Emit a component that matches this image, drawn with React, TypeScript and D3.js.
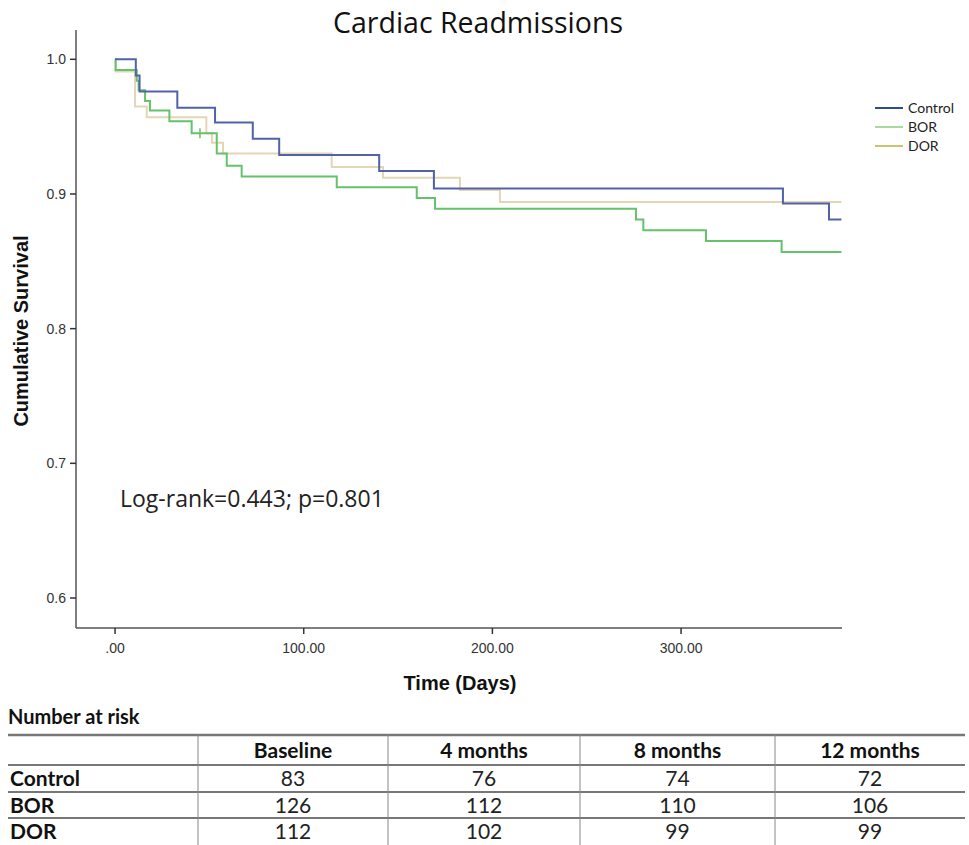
import React from "react";
import * as d3 from "d3";

// ---- Data ----
const seriesNames = ["Control", "BOR", "DOR"];
const controlTimes = [0, 11, 13, 33, 53, 73, 87, 140, 169, 354, 378.4, 385];
const controlSurv = [1.0, 0.988, 0.976, 0.964, 0.953, 0.941, 0.929, 0.917, 0.904, 0.893, 0.881, 0.881];
const borTimes = [0, 0.3, 11.5, 12.5, 15.9, 18.5, 28.8, 40.6, 53.9, 59.2, 67.1, 117.5, 159.9, 169.6, 276.1, 280, 313.2, 353.3, 385];
const borSurv = [1.0, 0.992, 0.984, 0.977, 0.969, 0.962, 0.954, 0.945, 0.930, 0.921, 0.913, 0.905, 0.897, 0.889, 0.881, 0.873, 0.865, 0.857, 0.857];
const borCensorTimes = [45];
const dorTimes = [0, 0.3, 10.6, 16.8, 48.4, 51.4, 57.2, 114.8, 142, 182.8, 204, 385];
const dorSurv = [1.0, 0.991, 0.965, 0.957, 0.945, 0.938, 0.930, 0.920, 0.912, 0.903, 0.894, 0.894];

const yTicks = [0.6, 0.7, 0.8, 0.9, 1.0];
const xTicks = [0, 100, 200, 300];
const xTickLabels = [".00", "100.00", "200.00", "300.00"];

const riskColumns = ["Baseline", "4 months", "8 months", "12 months"];
const riskControl = [83, 76, 74, 72];
const riskBOR = [126, 112, 110, 106];
const riskDOR = [112, 102, 99, 99];

const lineColors = ["#5262aa", "#66c26a", "#e3d6b4"];
const legendColors = ["#2f4c8c", "#a9d99f", "#c9c76b"];

export default function App() {
  const x = d3.scaleLinear().domain([-20.7, 385.3]).range([76, 842]);
  const y = d3.scaleLinear().domain([0.6, 1.0]).range([598, 59.3]);
  const axisY = 628;
  const axisTop = 30;

  const line = d3
    .line<[number, number]>()
    .x((d) => x(d[0]))
    .y((d) => y(d[1]))
    .curve(d3.curveStepAfter);

  const series = [
    { times: controlTimes, surv: controlSurv },
    { times: borTimes, surv: borSurv },
    { times: dorTimes, surv: dorSurv },
  ];
  const drawOrder = [2, 1, 0];

  const borAt = (t: number) => {
    let v = borSurv[0];
    for (let i = 0; i < borTimes.length; i++) if (borTimes[i] <= t) v = borSurv[i];
    return v;
  };

  const riskRows = [riskControl, riskBOR, riskDOR];
  const colEdges = [8, 198, 388, 580, 775, 965];
  const rowEdges = [735, 765, 792, 818, 845];

  const sans = "'Liberation Sans', Arial, sans-serif";
  const cal = "Lato, 'Open Sans', sans-serif";
  const open = "'Open Sans', sans-serif";

  return (
    <svg
      width={969}
      height={845}
      style={{ position: "absolute", left: 0, top: 0, background: "#fff" }}
    >
      <rect x={0} y={0} width={969} height={845} fill="#fff" />
      {/* Title */}
      <text x={478} y={33} textAnchor="middle" fontFamily={open} fontSize={28.5} fill="#111">
        Cardiac Readmissions
      </text>

      {/* Axes */}
      <line x1={76} y1={axisTop} x2={76} y2={axisY} stroke="#555" strokeWidth={1.5} />
      <line x1={76} y1={axisY} x2={842} y2={axisY} stroke="#555" strokeWidth={1.5} />
      {yTicks.map((t) => (
        <g key={"yt" + t}>
          <line x1={70} x2={76} y1={y(t)} y2={y(t)} stroke="#333" strokeWidth={1.5} />
          <text x={66} y={y(t) + 5} textAnchor="end" fontFamily={sans} fontSize={14} fill="#333">
            {t.toFixed(1)}
          </text>
        </g>
      ))}
      {xTicks.map((t, i) => (
        <g key={"xt" + t}>
          <line x1={x(t)} x2={x(t)} y1={axisY} y2={axisY + 6} stroke="#333" strokeWidth={1.5} />
          <text x={x(t)} y={axisY + 25} textAnchor="middle" fontFamily={sans} fontSize={14} fill="#333">
            {xTickLabels[i]}
          </text>
        </g>
      ))}
      <text x={460} y={690} textAnchor="middle" fontFamily={sans} fontWeight="bold" fontSize={20} fill="#111">
        Time (Days)
      </text>
      <text
        transform={`translate(28,331) rotate(-90)`}
        textAnchor="middle"
        fontFamily={sans}
        fontWeight="bold"
        fontSize={20}
        fill="#111"
      >
        Cumulative Survival
      </text>

      {/* Curves */}
      {drawOrder.map((si) => {
        const s = series[si];
        const pts: [number, number][] = s.times.map((t, i) => [t, s.surv[i]]);
        return (
          <path key={"c" + si} d={line(pts) || ""} fill="none" stroke={lineColors[si]} strokeWidth={2} />
        );
      })}
      {borCensorTimes.map((t) => (
        <line
          key={"cen" + t}
          x1={x(t)}
          x2={x(t)}
          y1={y(borAt(t)) - 5}
          y2={y(borAt(t)) + 5}
          stroke={lineColors[1]}
          strokeWidth={1.5}
        />
      ))}

      {/* Legend */}
      {seriesNames.map((n, i) => (
        <g key={"lg" + n}>
          <line x1={875} x2={903} y1={108 + i * 19} y2={108 + i * 19} stroke={legendColors[i]} strokeWidth={2} />
          <text x={908} y={113 + i * 19} fontFamily={cal} fontSize={14} fill="#222">
            {n}
          </text>
        </g>
      ))}

      {/* Log-rank annotation */}
      <text x={120} y={507} fontFamily={open} fontSize={23} fill="#222">
        Log-rank=0.443; p=0.801
      </text>

      {/* Number at risk table */}
      <text x={8} y={724} fontFamily={cal} fontWeight="bold" fontSize={20} fill="#111">
        Number at risk
      </text>
      {rowEdges.slice(0, 4).map((ry, i) => (
        <line key={"hl" + i} x1={8} x2={965} y1={ry} y2={ry} stroke="#777" strokeWidth={i === 0 ? 2.5 : 2} />
      ))}
      {colEdges.slice(1, 5).map((cx, i) => (
        <line key={"vl" + i} x1={cx} x2={cx} y1={735} y2={845} stroke="#888" strokeWidth={1} />
      ))}
      {riskColumns.map((c, i) => (
        <text
          key={"rc" + c}
          x={(colEdges[i + 1] + colEdges[i + 2]) / 2}
          y={758}
          textAnchor="middle"
          fontFamily={cal}
          fontWeight="bold"
          fontSize={21}
          fill="#111"
        >
          {c}
        </text>
      ))}
      {seriesNames.map((n, r) => (
        <g key={"rr" + n}>
          <text x={10} y={rowEdges[r + 1] + 21} fontFamily={cal} fontWeight="bold" fontSize={21} fill="#111">
            {n}
          </text>
          {riskRows[r].map((v, i) => (
            <text
              key={"v" + i}
              x={(colEdges[i + 1] + colEdges[i + 2]) / 2}
              y={rowEdges[r + 1] + 21}
              textAnchor="middle"
              fontFamily={cal}
              fontSize={21}
              fill="#222"
            >
              {v}
            </text>
          ))}
        </g>
      ))}
    </svg>
  );
}
